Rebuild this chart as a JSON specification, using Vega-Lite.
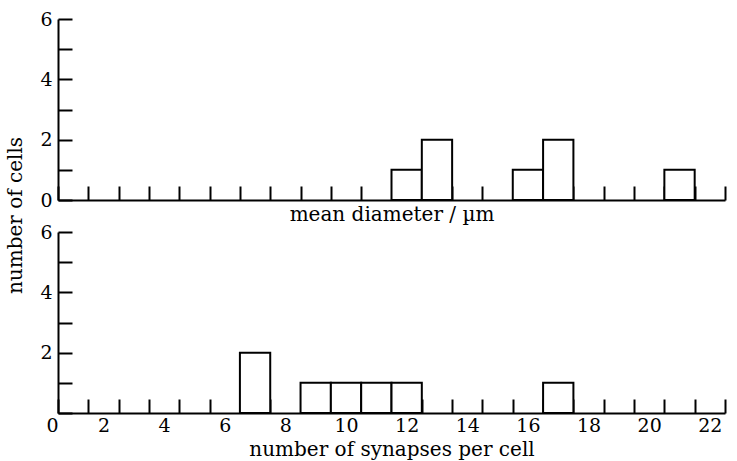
{
  "$schema": "https://vega.github.io/schema/vega-lite/v6.json",
  "background": "white",
  "padding": {"left": 5, "top": 10, "right": 5, "bottom": 5},
  "config": {
    "view": {"stroke": null},
    "font": "DejaVu Serif",
    "axis": {
      "grid": false,
      "domainColor": "black",
      "domainWidth": 2,
      "tickColor": "black",
      "tickWidth": 2,
      "labelColor": "black",
      "titleColor": "black",
      "labelFont": "DejaVu Serif",
      "titleFont": "DejaVu Serif",
      "labelFontSize": 19,
      "titleFontSize": 20,
      "titleFontWeight": "normal",
      "labelFlush": false
    }
  },
  "datasets": {
    "diameter": [
      {"bin_start": 11.5, "bin_end": 12.5, "cells": 1},
      {"bin_start": 12.5, "bin_end": 13.5, "cells": 2},
      {"bin_start": 15.5, "bin_end": 16.5, "cells": 1},
      {"bin_start": 16.5, "bin_end": 17.5, "cells": 2},
      {"bin_start": 20.5, "bin_end": 21.5, "cells": 1}
    ],
    "synapses": [
      {"bin_start": 6.5, "bin_end": 7.5, "cells": 2},
      {"bin_start": 8.5, "bin_end": 9.5, "cells": 1},
      {"bin_start": 9.5, "bin_end": 10.5, "cells": 1},
      {"bin_start": 10.5, "bin_end": 11.5, "cells": 1},
      {"bin_start": 11.5, "bin_end": 12.5, "cells": 1},
      {"bin_start": 16.5, "bin_end": 17.5, "cells": 1}
    ]
  },
  "spacing": 32,
  "bounds": "flush",
  "vconcat": [
    {
      "width": 667,
      "height": 181,
      "data": {"name": "diameter"},
      "mark": {"type": "rect", "fill": "white", "stroke": "black", "strokeWidth": 2},
      "encoding": {
        "x": {
          "field": "bin_start",
          "type": "quantitative",
          "scale": {"domain": [0.5, 22.5], "nice": false, "zero": false},
          "axis": {
            "values": [0.5,1.5,2.5,3.5,4.5,5.5,6.5,7.5,8.5,9.5,10.5,11.5,12.5,13.5,14.5,15.5,16.5,17.5,18.5,19.5,20.5,21.5,22.5],
            "tickSize": -14,
            "labels": false,
            "title": "mean diameter / µm",
            "titlePadding": 3
          }
        },
        "x2": {"field": "bin_end"},
        "y": {
          "field": "cells",
          "type": "quantitative",
          "scale": {"domain": [0, 6], "nice": false},
          "axis": {
            "values": [0,1,2,3,4,5,6],
            "tickSize": -14,
            "labelPadding": 20,
            "labelExpr": "datum.value % 2 == 0 ? datum.label : ''",
            "title": "number of cells",
            "titleX": -33,
            "titleY": 196,
            "titleAlign": "center",
            "titleAngle": -90
          }
        },
        "y2": {"datum": 0}
      }
    },
    {
      "width": 667,
      "height": 181,
      "data": {"name": "synapses"},
      "mark": {"type": "rect", "fill": "white", "stroke": "black", "strokeWidth": 2},
      "encoding": {
        "x": {
          "field": "bin_start",
          "type": "quantitative",
          "scale": {"domain": [0.5, 22.5], "nice": false, "zero": false},
          "axis": {
            "values": [0.5,1.5,2,2.5,3.5,4,4.5,5.5,6,6.5,7.5,8,8.5,9.5,10,10.5,11.5,12,12.5,13.5,14,14.5,15.5,16,16.5,17.5,18,18.5,19.5,20,20.5,21.5,22,22.5],
            "tickSize": -14,
            "tickOpacity": {"condition": {"test": "datum.value % 1 == 0", "value": 0}, "value": 1},
            "labelPadding": 17,
            "labelOverlap": false,
            "labelAlign": {"condition": {"test": "datum.value < 1", "value": "right"}, "value": "center"},
            "labelExpr": "datum.value == 0.5 ? '0' : (datum.value % 2 == 0 ? format(datum.value, 'd') : '')",
            "title": "number of synapses per cell",
            "titlePadding": 4
          }
        },
        "x2": {"field": "bin_end"},
        "y": {
          "field": "cells",
          "type": "quantitative",
          "scale": {"domain": [0, 6], "nice": false},
          "axis": {
            "values": [0,1,2,3,4,5,6],
            "tickSize": -14,
            "labelPadding": 20,
            "labelExpr": "datum.value % 2 == 0 && datum.value > 0 ? datum.label : ''",
            "title": null
          }
        },
        "y2": {"datum": 0}
      }
    }
  ]
}
